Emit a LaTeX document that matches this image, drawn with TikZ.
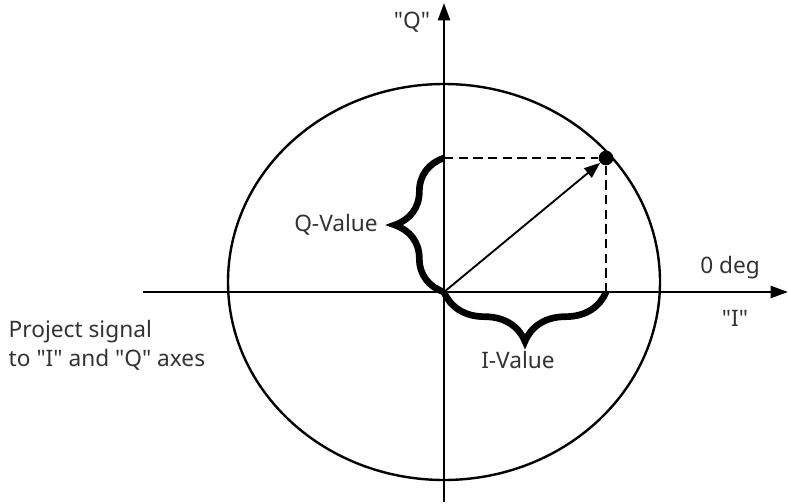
\documentclass[tikz,border=0pt]{standalone}
\usepackage{fontspec}
\setmainfont{Noto Sans}[Ligatures=TeXOff]
\usetikzlibrary{arrows.meta,decorations.pathreplacing}

\begin{document}
\begin{tikzpicture}[x=0.75pt,y=-0.75pt,
  axis/.style={line width=1.8pt,-{Triangle[length=13pt,width=9pt]}},
  txt/.style={text=black!80,font=\fontsize{17}{22}\selectfont},
  bigbrace/.style={decorate,decoration={brace,amplitude=37pt,aspect=0.5},line width=5pt}]
\useasboundingbox (0,0) rectangle (788,503);
% axes and circle
\coordinate (O) at (444,292);
\coordinate (Istart) at (143,292);
\coordinate (Iend) at (788,292);
\coordinate (Qstart) at (444,502);
\coordinate (Qend) at (444,3);
\draw[line width=1.8pt] (444,282) ellipse [x radius=216, y radius=198];
\draw[axis] (Istart) -- (Iend);
\draw[axis] (Qstart) -- (Qend);
% signal point and projections
\node[circle,fill,inner sep=0pt,minimum size=11pt] (P) at (606,158) {};
\coordinate (Px) at (606,292);
\coordinate (Py) at (444,158);
\draw[line width=1.6pt,dash pattern=on 7pt off 4pt] (Py) -- (P) -- (Px);
\draw[line width=1.4pt,-{Triangle[length=12pt,width=9pt]}] (O) -- (P);
% braces
\draw[bigbrace] (O) -- (Py);
\draw[bigbrace] (Px) -- (O);
% labels
\node[txt] (qlab) at (412,22) {"Q"};
\node[txt] (qval) at (336,225) {Q-Value};
\node[txt] (ival) at (518,360) {I-Value};
\node[txt] (deg) at (730,268) {0 deg};
\node[txt] (ilab) at (735,318) {"I"};
\node[txt,anchor=west,align=left] (proj) at (4,345) {Project signal\\to "I" and "Q" axes};
\end{tikzpicture}
\end{document}
